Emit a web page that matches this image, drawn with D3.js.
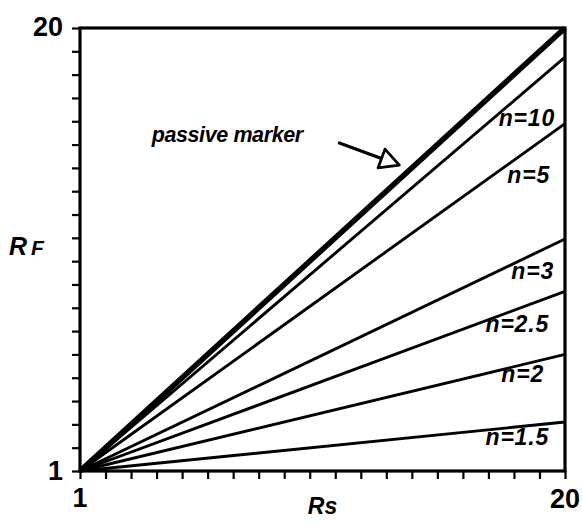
<!DOCTYPE html>
<html>
<head>
<meta charset="utf-8">
<script src="https://cdn.jsdelivr.net/npm/d3@7"></script>
<style>
  html, body { margin: 0; padding: 0; background: #fff; }
  svg text { font-family: "Liberation Sans", Arial, Helvetica, sans-serif; font-weight: bold; fill: #000; }
</style>
</head>
<body>
<svg id="chart" width="582" height="522"></svg>
<script>
// ── data ──
const seriesNames  = ['passive', 'n=10', 'n=5', 'n=3', 'n=2.5', 'n=2', 'n=1.5'];
const seriesStartX = 1;
const seriesEndX   = 20;
const seriesStartY = [1, 1, 1, 1, 1, 1, 1];
const seriesEndY   = [20, 18.75, 15.9, 10.95, 8.7, 6.0, 3.1];
const tickValues   = d3.range(1, 21);
const tickLabels   = ['1', '20'];

// label offsets from each line's right end (px) — layout only
const labelDx = [0, -10, -15, -11, -16, -21, -16];
const labelDy = [0, 69, 59, 40, 41, 28, 23];

// annotation, in data units
const arrowTail = [11.16, 15.07];
const arrowTip  = [13.51, 14.12];
const noteText  = 'passive marker';
const notePos   = [3.81, 15.1];

const svg = d3.select('#chart');
const margin = { left: 80, right: 17, top: 28, bottom: 51 };
const W = 582, H = 522;

const x = d3.scaleLinear().domain([1, 20]).range([margin.left, W - margin.right]);
const y = d3.scaleLinear().domain([1, 20]).range([H - margin.bottom, margin.top]);

// ── axes with outward ticks ──
const xAxis = d3.axisBottom(x).tickValues(tickValues).tickSize(8).tickFormat('');
const yAxis = d3.axisLeft(y).tickValues(tickValues).tickSize(8).tickFormat('');

const gx = svg.append('g').attr('transform', `translate(0,${y(1)})`).call(xAxis);
const gy = svg.append('g').attr('transform', `translate(${x(1)},0)`).call(yAxis);
[gx, gy].forEach(g => {
  g.select('.domain').remove();
  g.selectAll('.tick line').attr('stroke', '#000').attr('stroke-width', 2.2);
});

// frame
svg.append('rect')
  .attr('x', x(1)).attr('y', y(20))
  .attr('width', x(20) - x(1)).attr('height', y(1) - y(20))
  .attr('fill', 'none').attr('stroke', '#000').attr('stroke-width', 3.2);

// ── lines ──
const lines = seriesNames.map((name, i) => ({
  name, i,
  pts: [[seriesStartX, seriesStartY[i]], [seriesEndX, seriesEndY[i]]],
}));

const lineGen = d3.line().x(d => x(d[0])).y(d => y(d[1]));

svg.append('g').selectAll('path')
  .data(lines)
  .join('path')
  .attr('d', d => lineGen(d.pts))
  .attr('fill', 'none')
  .attr('stroke', '#000')
  .attr('stroke-width', d => d.name === 'passive' ? 5.5 : 2.9)
  .attr('stroke-linecap', 'butt');

// series labels
svg.append('g').selectAll('text')
  .data(lines.filter(d => d.name !== 'passive'))
  .join('text')
  .attr('x', d => x(seriesEndX) + labelDx[d.i])
  .attr('y', d => y(seriesEndY[d.i]) + labelDy[d.i])
  .attr('text-anchor', 'end')
  .attr('font-style', 'italic')
  .attr('font-size', 23)
  .attr('letter-spacing', 0.8)
  .text(d => d.name);

// ── tick labels ──
svg.append('text').attr('x', x(1) - 17).attr('y', y(20) + 8)
  .attr('text-anchor', 'end').attr('font-size', 27).text(tickLabels[1]);
svg.append('text').attr('x', x(1) - 17).attr('y', y(1) + 9)
  .attr('text-anchor', 'end').attr('font-size', 27).text(tickLabels[0]);
svg.append('text').attr('x', x(1)).attr('y', y(1) + 36)
  .attr('text-anchor', 'middle').attr('font-size', 27).text(tickLabels[0]);
svg.append('text').attr('x', x(20)).attr('y', y(1) + 37)
  .attr('text-anchor', 'middle').attr('font-size', 27).text(tickLabels[1]);

// ── axis titles ──
svg.append('text')
  .attr('x', (x(1) + x(20)) / 2).attr('y', H - 8)
  .attr('text-anchor', 'middle').attr('font-style', 'italic').attr('font-size', 23)
  .text('Rs');

const rf = svg.append('text')
  .attr('x', 9).attr('y', 255)
  .attr('font-style', 'italic');
rf.append('tspan').attr('font-size', 25).text('R');
rf.append('tspan').attr('dx', 4).attr('font-size', 21).text('F');

// ── annotation ──
svg.append('text')
  .attr('x', x(notePos[0])).attr('y', y(notePos[1]))
  .attr('font-style', 'italic').attr('font-size', 21.5)
  .attr('letter-spacing', -0.4)
  .text(noteText);

const tail = [x(arrowTail[0]), y(arrowTail[1])];
const tip  = [x(arrowTip[0]),  y(arrowTip[1])];
const dxA = tip[0] - tail[0], dyA = tip[1] - tail[1];
const len = Math.hypot(dxA, dyA);
const ux = dxA / len, uy = dyA / len;
const headLen = 19, headHalf = 10;
const base = [tip[0] - ux * headLen, tip[1] - uy * headLen];

svg.append('line')
  .attr('x1', tail[0]).attr('y1', tail[1])
  .attr('x2', base[0]).attr('y2', base[1])
  .attr('stroke', '#000').attr('stroke-width', 3.2).attr('stroke-linecap', 'round');

svg.append('path')
  .attr('d', d3.line()([
    tip,
    [base[0] - uy * headHalf, base[1] + ux * headHalf],
    [base[0] + uy * headHalf, base[1] - ux * headHalf],
  ]) + 'Z')
  .attr('fill', '#fff').attr('stroke', '#000').attr('stroke-width', 2.8)
  .attr('stroke-linejoin', 'round');
</script>
</body>
</html>
